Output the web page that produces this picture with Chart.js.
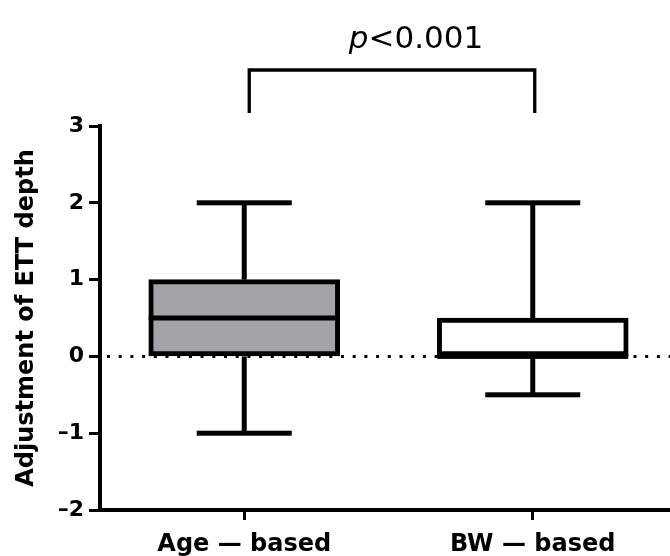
<!DOCTYPE html>
<html>
<head>
<meta charset="utf-8">
<script src="https://cdn.jsdelivr.net/npm/chart.js@4.4.1/dist/chart.umd.min.js"></script>
<style>
  html, body { margin: 0; padding: 0; background: #fff; overflow: hidden; }
  #wrap { width: 677px; height: 556px; }
</style>
</head>
<body>
<div id="wrap"><canvas id="boxChart"></canvas></div>
<script>
// Box plot values
const groups = ['Age — based', 'BW — based'];
const whiskerMin = [-1, -0.5];
const quartile1 = [0, 0];
const medians = [0.5, 0];
const quartile3 = [1, 0.5];
const whiskerMax = [2, 2];
const boxColors = ['#a4a4a8', '#ffffff'];
const yTicks = [-2, -1, 0, 1, 2, 3];
const referenceLine = 0;
const pValueText = '<0.001';

const FONT = 'DejaVu Sans';

// medians, whiskers, caps, dotted zero line and the significance bracket
const boxExtras = {
    id: 'boxExtras',
    beforeDatasetsDraw(chart) {
        const { ctx, chartArea } = chart;
        const py = chart.scales.y.getPixelForValue(referenceLine);
        ctx.save();
        ctx.strokeStyle = '#000';
        ctx.lineWidth = 3;
        ctx.setLineDash([3, 8.7]);
        ctx.beginPath();
        ctx.moveTo(chartArea.left + 7, py);
        ctx.lineTo(chartArea.right, py);
        ctx.stroke();
        ctx.restore();
    },
    afterDatasetsDraw(chart) {
        const { ctx } = chart;
        const x = chart.scales.x;
        const y = chart.scales.y;
        const bars = chart.getDatasetMeta(0).data;
        ctx.save();
        ctx.fillStyle = '#000';
        groups.forEach((g, i) => {
            const cx = x.getPixelForValue(i);
            const half = bars[i].width / 2;
            const pMed = y.getPixelForValue(medians[i]);
            const pMax = y.getPixelForValue(whiskerMax[i]);
            const pQ3 = y.getPixelForValue(quartile3[i]);
            const pQ1 = y.getPixelForValue(quartile1[i]);
            const pMin = y.getPixelForValue(whiskerMin[i]);
            ctx.fillRect(cx - half, pMed - 2.5, half * 2, 5);
            ctx.fillRect(cx - 2.5, pMax, 5, pQ3 - pMax);
            ctx.fillRect(cx - 2.5, pQ1, 5, pMin - pQ1);
            ctx.fillRect(cx - 47.5, pMax - 2.5, 95, 5);
            ctx.fillRect(cx - 47.5, pMin - 2.5, 95, 5);
        });

        // bracket between the two groups
        const x1 = x.getPixelForValue(0) + 5;
        const x2 = x.getPixelForValue(1) + 2;
        const yb = 70, legEnd = 113;
        ctx.strokeStyle = '#000';
        ctx.lineWidth = 3.3;
        ctx.lineCap = 'butt';
        ctx.beginPath();
        ctx.moveTo(x1, legEnd);
        ctx.lineTo(x1, yb);
        ctx.lineTo(x2, yb);
        ctx.lineTo(x2, legEnd);
        ctx.stroke();

        // p value: italic p + regular text
        ctx.textBaseline = 'alphabetic';
        ctx.textAlign = 'left';
        ctx.font = 'italic 31px "' + FONT + '"';
        const wP = ctx.measureText('p').width;
        ctx.font = '31px "' + FONT + '"';
        const wRest = ctx.measureText(pValueText).width;
        const center = (x1 + x2) / 2 + 24;
        const start = center - (wP + wRest) / 2;
        ctx.font = 'italic 31px "' + FONT + '"';
        ctx.fillText('p', start, 48);
        ctx.font = '31px "' + FONT + '"';
        ctx.fillText(pValueText, start + wP, 48);
        ctx.restore();
    }
};

new Chart(document.getElementById('boxChart'), {
    type: 'bar',
    data: {
        labels: groups,
        datasets: [{
            data: groups.map((g, i) => [quartile1[i], quartile3[i]]),
            backgroundColor: boxColors,
            borderColor: '#000',
            borderWidth: 5,
            borderSkipped: false,
            barThickness: 191
        }]
    },
    options: {
        responsive: true,
        maintainAspectRatio: false,
        animation: false,
        layout: { padding: { top: 126, right: 0, left: 0, bottom: 0 } },
        plugins: {
            legend: { display: false },
            tooltip: { enabled: false }
        },
        scales: {
            x: {
                afterFit: s => { s.height = 46; },
                grid: { offset: false, drawOnChartArea: false, tickLength: 10, tickWidth: 3, tickColor: '#000' },
                border: { color: '#000', width: 4 },
                ticks: {
                    color: '#000',
                    padding: 10,
                    font: { family: FONT, weight: 'bold', size: 24 }
                }
            },
            y: {
                min: -2,
                max: 3,
                afterBuildTicks: s => { s.ticks = yTicks.map(v => ({ value: v })); },
                afterFit: s => { s.width = 100; },
                grid: { drawOnChartArea: false, tickLength: 11, tickWidth: 3, tickColor: '#000' },
                border: { color: '#000', width: 4 },
                ticks: {
                    color: '#000',
                    padding: 5,
                    font: { family: FONT, weight: 'bold', size: 22 },
                    callback: v => String(v).replace('-', '–')
                },
                title: {
                    display: true,
                    text: 'Adjustment of ETT depth',
                    color: '#000',
                    font: { family: FONT, weight: 'bold', size: 24 },
                    padding: { top: 12, bottom: 0 }
                }
            }
        }
    },
    plugins: [boxExtras]
});
</script>
</body>
</html>
